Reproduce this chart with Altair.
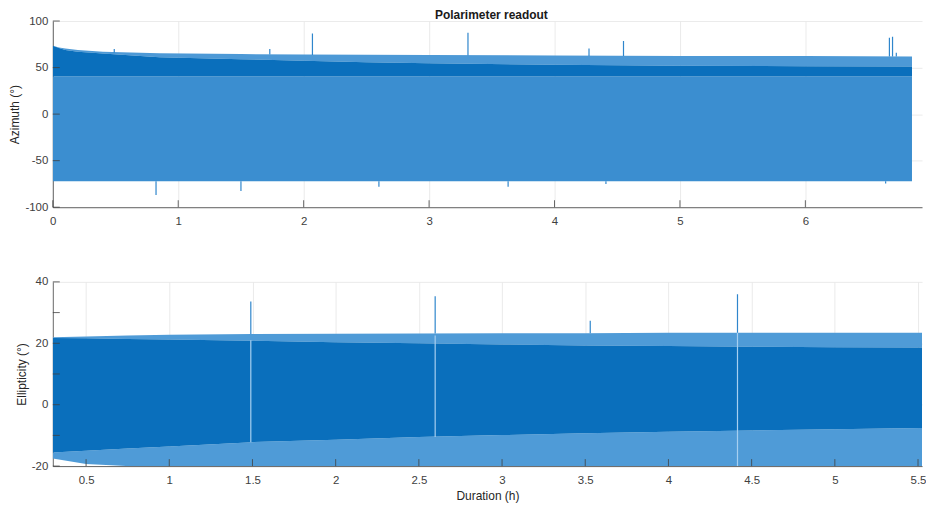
import altair as alt
import pandas as pd

FONT = "Liberation Sans, Arial, Helvetica, sans-serif"
DARK = "#0a6fbc"
LIGHT_TOP = "#3b8ed0"
LIGHT_TIPS = "#4d99d6"
LIGHT_BOT = "#4f9bd7"
SPIKE = "#2f86cc"
GAP = "#a6cff0"

# ---------------- Azimuth panel (envelopes) ----------------
az_t = [0.0, 0.05, 0.1, 0.2, 0.4, 0.85, 1.5, 2.0, 2.5, 3.0, 4.0, 5.0, 6.0, 6.85]
az_light_top = [73.5, 71.5, 70.5, 69.0, 67.0, 65.5, 64.5, 64.0, 63.7, 63.5, 63.0, 62.5, 62.3, 62.0]
az_dark_top = [73.5, 71.0, 69.0, 67.0, 65.0, 61.0, 59.0, 57.2, 55.8, 54.7, 53.0, 52.0, 51.5, 51.2]
az_dark_bottom = [40.5, 40.5, 40.5, 40.5, 40.5, 40.5, 40.5, 40.5, 40.5, 40.5, 40.5, 40.5, 40.5, 40.5]
az_light_bottom = [-72.0, -72.0, -72.0, -72.0, -72.0, -72.0, -72.0, -72.0, -72.0, -72.0, -72.0, -72.0, -72.0, -72.0]

az_up_t = [0.49, 1.73, 2.07, 3.31, 4.275, 4.55, 6.67, 6.695, 6.725]
az_up_peak = [70.0, 70.0, 86.5, 87.5, 70.5, 78.5, 82.0, 83.0, 66.0]
az_up_base = [66.0, 64.0, 63.5, 63.0, 62.5, 62.5, 62.0, 62.0, 62.0]
az_down_t = [0.823, 1.50, 2.60, 3.63, 4.41, 6.64]
az_down_trough = [-87.0, -82.5, -78.0, -78.0, -75.0, -74.5]
az_down_base = [-72.0, -72.0, -72.0, -72.0, -72.0, -72.0]

az_xticks = [0, 1, 2, 3, 4, 5, 6]
az_yticks = [-100, -50, 0, 50, 100]

# ---------------- Ellipticity panel ----------------
el_t = [0.3, 0.5, 0.75, 1.0, 1.5, 2.0, 2.5, 3.0, 3.5, 4.0, 4.5, 5.0, 5.524]
el_light_top = [22.0, 22.2, 22.5, 22.8, 23.0, 23.1, 23.2, 23.3, 23.3, 23.4, 23.4, 23.4, 23.4]
el_dark_top = [21.7, 21.6, 21.4, 21.2, 20.8, 20.3, 20.0, 19.6, 19.3, 19.1, 18.9, 18.7, 18.6]
el_dark_bottom = [-15.6, -15.0, -14.3, -13.6, -12.2, -11.4, -10.5, -9.9, -9.3, -8.8, -8.4, -8.0, -7.6]
el_light_bottom = [-17.5, -19.3, -20.0, -20.0, -20.0, -20.0, -20.0, -20.0, -20.0, -20.0, -20.0, -20.0, -20.0]

el_spike_t = [1.49, 2.598, 3.53, 4.415]
el_spike_peak = [33.6, 35.3, 27.3, 36.0]
el_spike_base = [23.0, 23.2, 23.3, 23.4]
el_gap_t = [1.49, 2.598, 4.415]
el_gap_lo = [-12.2, -10.5, -20.0]
el_gap_hi = [21.0, 22.5, 23.4]

el_xticks = [0.5, 1, 1.5, 2, 2.5, 3, 3.5, 4, 4.5, 5, 5.5]
el_yticks = [-20, -10, 0, 10, 20, 30, 40]

W = 873
H1 = 187
H2 = 185
TICK = 7
HYPHEN = "replace(format(datum.value, '~g'), '\u2212', '-')"


def panel(t, light_lo, light_hi, dark_lo, dark_hi, spikes, gaps, xticks, yticks,
          xdom, ydom, h, ytitle, xtitle, light_color, tips_color):
    xs = alt.Scale(domain=xdom, nice=False, zero=False)
    ys = alt.Scale(domain=ydom, nice=False, zero=False)
    xaxis = alt.Axis(values=xticks, labelExpr=HYPHEN, grid=True, tickSize=0,
                     labelPadding=8, title=xtitle, titlePadding=5,
                     domain=True, labelFlush=False)
    yaxis = alt.Axis(values=yticks, labelExpr=HYPHEN, grid=True, tickSize=0,
                     labelPadding=5, title=ytitle, titlePadding=3, domain=True)

    tips_df = pd.DataFrame({"t": t, "y": dark_hi, "y2": light_hi})
    light_df = pd.DataFrame({"t": t, "y": light_lo, "y2": dark_lo})
    dark_df = pd.DataFrame({"t": t, "y": dark_lo, "y2": dark_hi})

    light = alt.Chart(light_df).mark_area(color=light_color, clip=True).encode(
        x=alt.X("t:Q", scale=xs, axis=xaxis),
        y=alt.Y("y:Q", scale=ys, axis=yaxis),
        y2="y2:Q",
    )
    tips = alt.Chart(tips_df).mark_area(color=tips_color, clip=True).encode(
        x="t:Q", y="y:Q", y2="y2:Q"
    )
    dark = alt.Chart(dark_df).mark_area(color=DARK, clip=True).encode(
        x="t:Q", y="y:Q", y2="y2:Q"
    )
    layers = [light, tips, dark]
    if gaps is not None:
        layers.append(
            alt.Chart(gaps).mark_rule(color=GAP, strokeWidth=1.2, clip=True).encode(
                x="t:Q", y="y:Q", y2="y2:Q"
            )
        )
    layers.append(
        alt.Chart(spikes).mark_rule(color=SPIKE, strokeWidth=1.2, clip=True).encode(
            x="t:Q", y="y:Q", y2="y2:Q"
        )
    )
    # inward tick marks (MATLAB style)
    xt_df = pd.DataFrame({"t": xticks})
    yt_df = pd.DataFrame({"y": yticks})
    layers.append(
        alt.Chart(xt_df).mark_rule(color="#404040", strokeWidth=0.8).encode(
            x="t:Q", y=alt.value(h), y2=alt.value(h - TICK)
        )
    )
    layers.append(
        alt.Chart(yt_df).mark_rule(color="#404040", strokeWidth=0.8).encode(
            y="y:Q", x=alt.value(0), x2=alt.value(TICK)
        )
    )
    return alt.layer(*layers).properties(width=W, height=h)


az_spikes = pd.DataFrame({
    "t": az_up_t + az_down_t,
    "y": az_up_base + az_down_base,
    "y2": az_up_peak + az_down_trough,
})
el_spikes = pd.DataFrame({"t": el_spike_t, "y": el_spike_base, "y2": el_spike_peak})
el_gaps = pd.DataFrame({"t": el_gap_t, "y": el_gap_lo, "y2": el_gap_hi})

top = panel(az_t, az_light_bottom, az_light_top, az_dark_bottom, az_dark_top,
            az_spikes, None, az_xticks, az_yticks, [0, 6.93], [-100, 100], H1,
            "Azimuth (°)", None, LIGHT_TOP, LIGHT_TIPS).properties(
    title=alt.TitleParams("Polarimeter readout", fontSize=12, fontWeight="bold",
                          font=FONT, color="#1a1a1a", offset=-7, dx=4,
                          anchor="middle")
)
bottom = panel(el_t, el_light_bottom, el_light_top, el_dark_bottom, el_dark_top,
               el_spikes, el_gaps, el_xticks, el_yticks, [0.3, 5.524], [-20, 40], H2,
               "Ellipticity (°)", "Duration (h)", LIGHT_BOT, LIGHT_BOT)

chart = alt.vconcat(top, bottom, spacing=49).properties(
    padding={"left": 0, "top": 0, "right": 0, "bottom": 0}
).configure_view(stroke=None).configure_axis(
    labelFont=FONT, titleFont=FONT, labelFontSize=11.5, titleFontSize=12,
    labelColor="#404040", titleColor="#262626", titleFontWeight="normal",
    domainColor="#404040", domainWidth=0.8, gridColor="#e4e4e4", gridWidth=0.8,
)

chart.save("out.html", embed_options={"renderer": "svg", "actions": False})
